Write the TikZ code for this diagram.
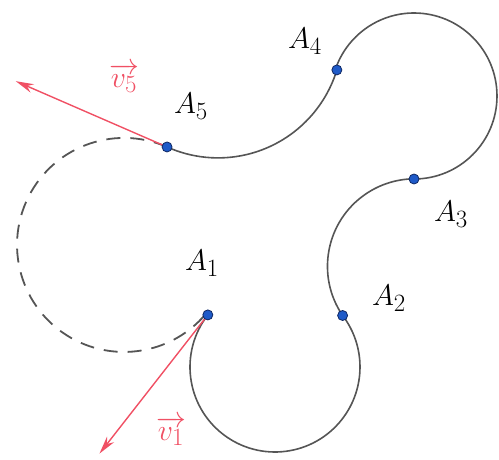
\documentclass[tikz,border=0pt]{standalone}
\usepackage{amsmath}
\usetikzlibrary{calc,arrows.meta}
\definecolor{curvegray}{RGB}{85,85,85}
\definecolor{vecred}{RGB}{240,80,100}
\definecolor{dotblue}{RGB}{30,90,200}
\definecolor{dotedge}{RGB}{15,40,100}
\begin{document}
\begin{tikzpicture}[x=1pt,y=1pt,
  curve/.style={draw=curvegray,line width=1.6pt},
  dashcurve/.style={curve,line width=1.8pt,dash pattern=on 14pt off 10pt},
  vecarrow/.style={draw=vecred,line width=1.4pt,-{Stealth[length=18pt,width=9pt,fill=vecred]}},
  dotpt/.style={circle,fill=dotblue,draw=dotedge,line width=0.8pt,inner sep=0pt,minimum size=10pt},
  lbl/.style={font=\Huge,scale=1.2},
  vlbl/.style={lbl,text=vecred}]
\useasboundingbox (0,0) rectangle (499,459);
\coordinate (C0) at (123,212);
\coordinate (C1) at (275,92);
\coordinate (C2) at (414,192.5);
\coordinate (C3) at (414,363);
\coordinate (C4) at (218,425.4);
\coordinate (A1) at ($(C1)+(142.2:85)$);
\coordinate (A2) at ($(C1)+(37.3:85)$);
\coordinate (A3) at ($(C2)+(90:87.5)$);
\coordinate (A4) at ($(C4)+(-17:124.3)$);
\coordinate (A5) at ($(C4)+(245.8:124.3)$);
\coordinate (V1) at ($(A1)+(232:176)$);
\coordinate (V5) at ($(A5)+(156.5:165)$);
% arcs
\draw[curve] (A1) arc[start angle=142.2,end angle=397.3,radius=85];
\draw[curve] (A2) arc[start angle=214.2,end angle=90,radius=87.5];
\draw[curve] (A3) arc[start angle=270,end angle=521.3,radius=83];
\draw[curve] (A4) arc[start angle=343,end angle=245.8,radius=124.3];
\draw[dashcurve] (A5) arc[start angle=66.3,end angle=321.3,radius=107];
% vectors
\draw[vecarrow] (A1) -- (V1);
\draw[vecarrow] (A5) -- (V5);
% dots
\node[dotpt] (d1) at (A1) {};
\node[dotpt] (d2) at (A2) {};
\node[dotpt] (d3) at (A3) {};
\node[dotpt] (d4) at (A4) {};
\node[dotpt] (d5) at (A5) {};
% labels
\node[lbl] (L1) at (202,196) {$A_1$};
\node[lbl] (L2) at (389,161) {$A_2$};
\node[lbl] (L3) at (451,245) {$A_3$};
\node[lbl] (L4) at (305,418) {$A_4$};
\node[lbl] (L5) at (191,353) {$A_5$};
\node[vlbl] (Lv5) at (124,381) {$\overrightarrow{v_5}$};
\node[vlbl] (Lv1) at (171,28) {$\overrightarrow{v_1}$};
\end{tikzpicture}
\end{document}
